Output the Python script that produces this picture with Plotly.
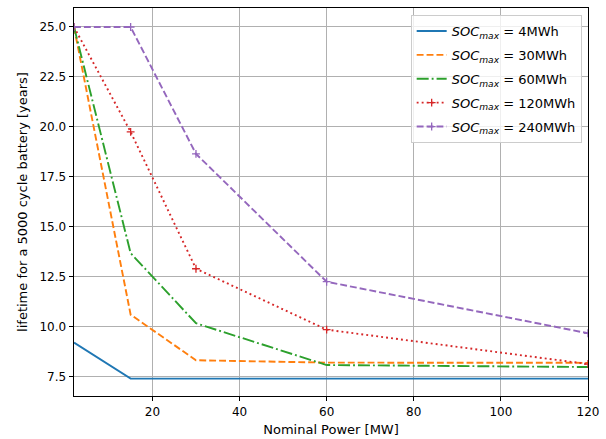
import plotly.graph_objects as go

power = [2, 15, 30, 60, 120]
soc4 = [9.2, 7.4, 7.4, 7.4, 7.4]
soc30 = [25.0, 10.6, 8.32, 8.2, 8.19]
soc60 = [25.0, 13.68, 10.17, 8.08, 7.98]
soc120 = [25.0, 19.75, 12.9, 9.85, 8.13]
soc240 = [25.0, 25.0, 18.65, 12.25, 9.67]

names = ["4MWh", "30MWh", "60MWh", "120MWh", "240MWh"]
series = [soc4, soc30, soc60, soc120, soc240]
colors = ["#1f77b4", "#ff7f0e", "#2ca02c", "#d62728", "#9467bd"]
dashes = ["solid", "6.9px,3px", "12px,3px,1.9px,3px", "1.9px,3.1px", "6.9px,3px"]
markers = [False, False, False, True, True]

fig = go.Figure()
for name, ys, c, d, m in zip(names, series, colors, dashes, markers):
    fig.add_trace(go.Scatter(
        x=power, y=ys,
        mode="lines+markers" if m else "lines",
        name="<i>SOC</i><sub><i>max</i></sub> = " + name,
        line=dict(color=c, width=1.9, dash=d),
        marker=dict(symbol="cross-thin", size=5.6, line=dict(color=c, width=1.3)),
        legendgroup=name,
    ))

axis_common = dict(
    showline=True, linecolor="black", linewidth=1, mirror=True,
    ticks="outside", ticklen=4.4, tickwidth=1, tickcolor="black",
    showgrid=True, gridcolor="#b0b0b0", gridwidth=1,
    zeroline=False, automargin=False,
    tickfont=dict(family="DejaVu Sans", size=12, color="black"),
)

fig.update_layout(
    width=606, height=439,
    margin=dict(l=74, r=18, t=8, b=43),
    plot_bgcolor="white", paper_bgcolor="white",
    font=dict(family="DejaVu Sans", size=12, color="black"),
    xaxis=dict(range=[2, 120], tickvals=[20, 40, 60, 80, 100, 120],
               title=dict(text="Nominal Power [MW]", font=dict(size=13), standoff=7),
               **axis_common),
    yaxis=dict(range=[6.53, 25.95], tickvals=[7.5, 10, 12.5, 15, 17.5, 20, 22.5, 25],
               tickformat=".1f",
               title=dict(text="lifetime for a 5000 cycle battery [years]", font=dict(size=13), standoff=8),
               **axis_common),
    legend=dict(x=0.9877, y=0.982, xanchor="right", yanchor="top",
                bgcolor="rgba(255,255,255,0.8)", bordercolor="#cccccc", borderwidth=1,
                font=dict(family="DejaVu Sans", size=13), tracegroupgap=4, itemwidth=30),
    showlegend=True,
)

fig.write_html("out.html", config={"displayModeBar": False},
               post_script="document.body.style.margin='0px';")
